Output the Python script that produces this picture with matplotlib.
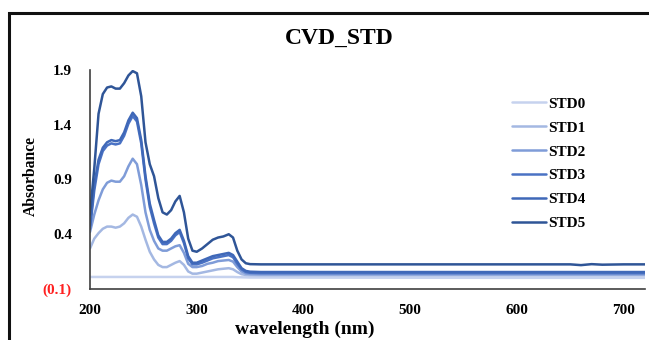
import matplotlib
matplotlib.use("Agg")
import matplotlib.pyplot as plt
from matplotlib.patches import Rectangle

# wavelength grid (nm)
wavelength = [200, 204, 208, 212, 216, 220, 224, 228, 232, 236, 240, 244, 248,
              252, 256, 260, 264, 268, 272, 276, 280, 284, 288, 292, 296,
              300, 305, 310, 315, 320, 325, 330, 334, 338, 342, 346, 350,
              360, 400, 500, 600, 650, 660, 670, 680, 700, 720]

std0 = [0.010, 0.010, 0.010, 0.010, 0.010, 0.010, 0.010, 0.010, 0.010, 0.010,
        0.010, 0.010, 0.010, 0.010, 0.010, 0.010, 0.010, 0.010, 0.010, 0.010,
        0.010, 0.010, 0.010, 0.010, 0.010, 0.010, 0.010, 0.010, 0.010, 0.010,
        0.010, 0.010, 0.010, 0.008, 0.007, 0.006, 0.005, 0.005, 0.004, 0.003,
        0.002, 0.002, 0.002, 0.002, 0.002, 0.002, 0.002]
std1 = [0.27, 0.36, 0.41, 0.45, 0.47, 0.47, 0.46, 0.47, 0.50, 0.55, 0.58, 0.56,
        0.47, 0.35, 0.24, 0.17, 0.12, 0.10, 0.10, 0.12, 0.14, 0.155, 0.12,
        0.06, 0.04, 0.04, 0.05, 0.06, 0.07, 0.08, 0.085, 0.09, 0.08, 0.055,
        0.035, 0.028, 0.026, 0.025, 0.025, 0.025, 0.025, 0.025, 0.025, 0.025,
        0.025, 0.025, 0.025]
std2 = [0.42, 0.58, 0.71, 0.81, 0.87, 0.89, 0.88, 0.88, 0.93, 1.02, 1.09, 1.04,
        0.85, 0.60, 0.44, 0.34, 0.27, 0.25, 0.25, 0.27, 0.29, 0.30, 0.23,
        0.13, 0.10, 0.10, 0.11, 0.13, 0.14, 0.155, 0.16, 0.165, 0.15, 0.10,
        0.06, 0.042, 0.037, 0.035, 0.035, 0.035, 0.035, 0.035, 0.035, 0.035,
        0.035, 0.035, 0.035]
std3 = [0.45, 0.80, 1.04, 1.16, 1.21, 1.23, 1.22, 1.23, 1.30, 1.41, 1.48, 1.43,
        1.23, 0.90, 0.65, 0.50, 0.37, 0.31, 0.31, 0.34, 0.39, 0.42, 0.32,
        0.18, 0.125, 0.125, 0.14, 0.16, 0.18, 0.19, 0.20, 0.21, 0.19, 0.13,
        0.08, 0.055, 0.048, 0.045, 0.045, 0.045, 0.045, 0.045, 0.045, 0.045,
        0.045, 0.045, 0.045]
std4 = [0.48, 0.85, 1.08, 1.19, 1.24, 1.26, 1.25, 1.26, 1.33, 1.44, 1.51, 1.46,
        1.26, 0.93, 0.68, 0.53, 0.39, 0.33, 0.33, 0.36, 0.41, 0.44, 0.34,
        0.20, 0.14, 0.14, 0.16, 0.18, 0.20, 0.21, 0.22, 0.23, 0.21, 0.15,
        0.09, 0.065, 0.058, 0.055, 0.055, 0.055, 0.055, 0.055, 0.055, 0.055,
        0.055, 0.055, 0.055]
std5 = [0.58, 1.00, 1.50, 1.68, 1.74, 1.75, 1.73, 1.73, 1.78, 1.85, 1.89, 1.87,
        1.66, 1.24, 1.04, 0.93, 0.73, 0.60, 0.58, 0.62, 0.70, 0.75, 0.60,
        0.36, 0.25, 0.24, 0.27, 0.31, 0.35, 0.37, 0.38, 0.40, 0.37, 0.25,
        0.17, 0.135, 0.127, 0.125, 0.125, 0.125, 0.125, 0.125, 0.118, 0.127,
        0.122, 0.125, 0.125]

series_names = ["STD0", "STD1", "STD2", "STD3", "STD4", "STD5"]
series_values = [std0, std1, std2, std3, std4, std5]
colors = ["#c6d2ee", "#a4b8e2", "#7f9cd8", "#4a72c4", "#3f68b8", "#2f5597"]

xticks = [200, 300, 400, 500, 600, 700]
yticks = [-0.1, 0.4, 0.9, 1.4, 1.9]
ytick_labels = ["(0.1)", "0.4", "0.9", "1.4", "1.9"]

plt.rcParams["font.family"] = ["Liberation Serif", "DejaVu Serif"]
plt.rcParams["font.weight"] = "bold"

fig = plt.figure(figsize=(6.49, 3.40), dpi=100)
ax = fig.add_axes([90 / 649, 1 - 289 / 340, 555 / 649, 219 / 340])

for name, vals, col in zip(series_names, series_values, colors):
    ax.plot(wavelength, vals, color=col, lw=1.8, label=name,
            solid_capstyle="round", solid_joinstyle="round")

ax.set_xlim(200, 720)
ax.set_ylim(-0.1, 1.9)
ax.set_xticks(xticks)
ax.set_yticks(yticks)
ax.set_yticklabels(ytick_labels)
ax.get_yticklabels()[0].set_color("#ff2020")
ax.tick_params(length=0, labelsize=11)
ax.tick_params(axis="y", pad=13)
ax.tick_params(axis="x", pad=11)
for lab in ax.get_xticklabels() + ax.get_yticklabels():
    lab.set_fontweight("bold")

for side in ["top", "right"]:
    ax.spines[side].set_visible(False)
for side in ["left", "bottom"]:
    ax.spines[side].set_color("#404040")
    ax.spines[side].set_linewidth(1.2)

fig.text(339 / 649, 1 - 38 / 340, "CVD_STD", ha="center", va="center",
         fontsize=17, fontweight="bold")
fig.text(305 / 649, 1 - 329 / 340, "wavelength (nm)", ha="center",
         va="center", fontsize=14, fontweight="bold")
fig.text(31 / 649, 1 - 176 / 340, "Absorbance", ha="center", va="center",
         rotation=90, fontsize=11.3, fontweight="bold")

ax.legend(loc="upper left", bbox_to_anchor=(512 / 649, 1 - 97 / 340),
          bbox_transform=fig.transFigure, frameon=False,
          handlelength=2.2, handletextpad=0.15, labelspacing=0.67,
          borderpad=0, borderaxespad=0,
          prop={"weight": "bold", "size": 11})

# outer frame of the pasted chart
fig.patches.append(Rectangle((9 / 649, -0.2), 1.2, 1.2 - 13 / 340,
                             transform=fig.transFigure, fill=False,
                             edgecolor="#111111", lw=2.2))

fig.savefig("out.png", dpi=100)
